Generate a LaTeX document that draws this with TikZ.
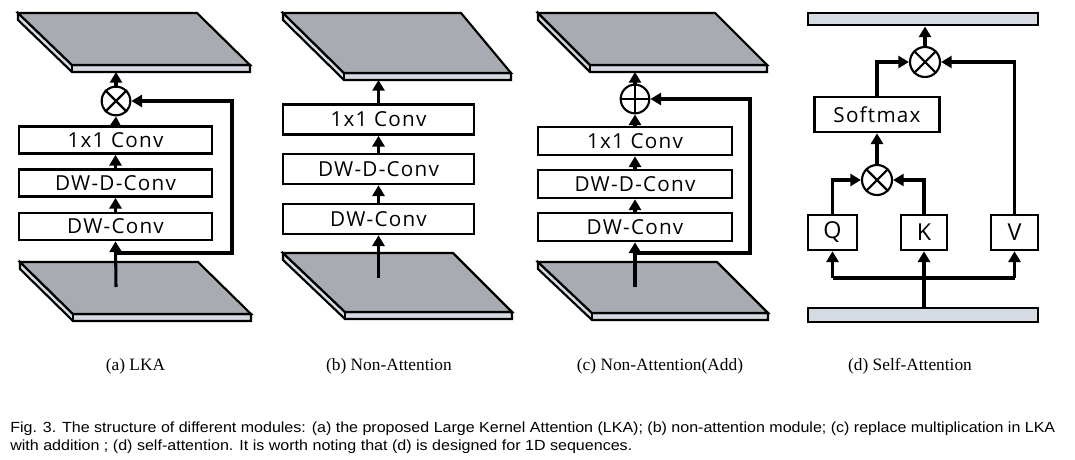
\documentclass[tikz,border=0pt]{standalone}
\usepackage{fontspec}
\usepackage{graphicx}
\setmainfont{Liberation Serif}
\newfontfamily\boxfont[LetterSpace=6]{Open Sans}
\newfontfamily\capfont{Liberation Sans}
\usetikzlibrary{arrows.meta}
\definecolor{planegray}{RGB}{168,172,178}
\definecolor{slablight}{RGB}{214,218,226}
\newcommand\myslab[8]{%
  \filldraw[slabside] (#1,#2) -- (#7,#8) -- (#5,#6) -- ++(0,7) -- ++(#7-#5,0) -- ++(#1-#7,#2-#8) -- cycle;
  \draw[slabside] (#7,#8) -- ++(0,7);
  \filldraw[slabtop] (#1,#2) -- (#3,#4) -- (#5,#6) -- (#7,#8) -- cycle;}
\begin{document}
\begin{tikzpicture}[x=0.75pt,y=-0.75pt,
  slabside/.style={fill=slablight,draw=black,line width=1.6pt,line join=miter},
  slabtop/.style={fill=planegray,draw=black,line width=1.6pt,line join=miter},
  box/.style={draw,line width=2pt,fill=white,inner sep=0pt,font=\boxfont\fontsize{15.5}{18}\selectfont},
  arr/.style={line width=2.3pt,-{Triangle[width=9pt,length=8pt]}},
  ln/.style={line width=2.3pt},
  op/.style={circle,draw,line width=1.6pt,inner sep=0pt,fill=white},
  bar/.style={draw,line width=2.2pt,fill=slablight,inner sep=0pt,minimum width=172.5pt},
  sub/.style={anchor=base,font=\fontsize{13}{15}\selectfont},
  figcap/.style={anchor=base west,inner sep=0pt,font=\capfont\fontsize{11}{13}\selectfont}]
\useasboundingbox (0,0) rectangle (1075,460);

% ---------- (a) LKA ----------
\myslab{18}{13}{197}{13}{250}{65}{72}{65}
\myslab{20}{262}{198}{262}{251}{314}{73}{314}
\node[box,minimum width=144.75pt,minimum height=20.25pt] (a1) at (115.5,226.5) {DW-Conv};
\node[box,minimum width=144.75pt,minimum height=20.25pt] (a2) at (115.5,183) {DW-D-Conv};
\node[box,minimum width=144.75pt,minimum height=20.25pt] (a3) at (115.5,140) {1x1 Conv};
\node[op,minimum size=21.5pt] (am) at (116,101) {};
\draw[line width=1.6pt] (am.north west) -- (am.south east) (am.north east) -- (am.south west);
\coordinate (aIn) at (116,287);
\coordinate (aOut) at (116,72);
\coordinate (aSplit) at (116,253);
\coordinate (aC1) at (232,253);
\coordinate (aC2) at (232,101);
\draw[arr] (aIn) -- (a1.south);
\draw[arr] (a1.north) -- (a2.south);
\draw[arr] (a2.north) -- (a3.south);
\draw[arr] (a3.north) -- (am.south);
\draw[arr] (am.north) -- (aOut);
\draw[arr,line join=miter] (aSplit) -- (aC1) -- (aC2) -- (am.east);

% ---------- (b) Non-Attention ----------
\myslab{283}{13}{461}{13}{511}{73}{344}{73}
\myslab{283}{253}{453}{253}{512}{312}{345}{312}
\node[box,minimum width=143.25pt,minimum height=22.5pt] (b1) at (378.5,219) {DW-Conv};
\node[box,minimum width=143.25pt,minimum height=22.5pt] (b2) at (378.5,169) {DW-D-Conv};
\node[box,minimum width=143.25pt,minimum height=22.5pt] (b3) at (378.5,119.5) {1x1 Conv};
\coordinate (bIn) at (378.5,278);
\coordinate (bOut) at (378.5,80);
\draw[arr] (bIn) -- (b1.south);
\draw[arr] (b1.north) -- (b2.south);
\draw[arr] (b2.north) -- (b3.south);
\draw[arr] (b3.north) -- (bOut);

% ---------- (c) Non-Attention(Add) ----------
\myslab{538}{13}{715}{13}{767}{65}{590}{65}
\myslab{538}{262}{717}{262}{768}{313}{592}{313}
\node[box,minimum width=145.5pt,minimum height=21pt] (c1) at (635,227) {DW-Conv};
\node[box,minimum width=145.5pt,minimum height=21pt] (c2) at (635,184) {DW-D-Conv};
\node[box,minimum width=145.5pt,minimum height=21pt] (c3) at (635,141) {1x1 Conv};
\node[op,minimum size=21.5pt] (cm) at (635,99) {};
\draw[line width=1.6pt] (cm.north) -- (cm.south) (cm.west) -- (cm.east);
\coordinate (cIn) at (635,287);
\coordinate (cOut) at (635,72);
\coordinate (cSplit) at (635,253);
\coordinate (cC1) at (750,253);
\coordinate (cC2) at (750,99);
\draw[arr] (cIn) -- (c1.south);
\draw[arr] (c1.north) -- (c2.south);
\draw[arr] (c2.north) -- (c3.south);
\draw[arr] (c3.north) -- (cm.south);
\draw[arr] (cm.north) -- (cOut);
\draw[arr,line join=miter] (cSplit) -- (cC1) -- (cC2) -- (cm.east);

% ---------- (d) Self-Attention ----------
\node[bar,minimum height=9pt] (dtop) at (923,19) {};
\node[bar,minimum height=10.5pt] (dbot) at (923,315) {};
\node[op,minimum size=22.5pt] (dm2) at (925,62) {};
\draw[line width=1.6pt] (dm2.north west) -- (dm2.south east) (dm2.north east) -- (dm2.south west);
\node[op,minimum size=22.5pt] (dm1) at (877,180) {};
\draw[line width=1.6pt] (dm1.north west) -- (dm1.south east) (dm1.north east) -- (dm1.south west);
\node[box,minimum width=93.75pt,minimum height=26.25pt] (dsm) at (877,114.5) {Softmax};
\node[box,minimum width=36.75pt,minimum height=26.25pt,font=\boxfont\fontsize{17.5}{20}\selectfont] (dq) at (832.5,232.5) {Q};
\node[box,minimum width=34.5pt,minimum height=26.25pt,font=\boxfont\fontsize{17.5}{20}\selectfont] (dk) at (924,232.5) {K};
\node[box,minimum width=35.25pt,minimum height=26.25pt,font=\boxfont\fontsize{17.5}{20}\selectfont] (dv) at (1014.5,232.5) {V};
\coordinate (dbl) at (832.5,278);
\coordinate (dbr) at (1014.5,278);
\draw[ln] (dbl) -- (dbr);
\draw[arr] (dbot.north -| dk.south) -- (dk.south);
\draw[arr] (dbl) -- (dq.south);
\draw[arr] (dbr) -- (dv.south);
\draw[arr,line join=miter] (dq.north) |- (dm1.west);
\draw[arr,line join=miter] (dk.north) |- (dm1.east);
\draw[arr] (dm1.north) -- (dsm.south);
\draw[arr,line join=miter] (dsm.north) |- (dm2.west);
\draw[arr,line join=miter] (dv.north) |- (dm2.east);
\draw[arr] (dm2.north) -- (dm2.north |- dtop.south);

% ---------- sub-captions ----------
\node[sub] (la) at (135.5,370) {(a) LKA};
\node[sub] (lb) at (389,370) {(b) Non-Attention};
\node[sub] (lc) at (660,370) {(c) Non-Attention(Add)};
\node[sub] (ld) at (910,370) {(d) Self-Attention};

% ---------- figure caption ----------
\node[figcap] (f1) at (10,432) {\resizebox{783.75pt}{\height}{Fig. 3. The structure of different modules: (a) the proposed Large Kernel Attention (LKA); (b) non-attention module; (c) replace multiplication in LKA}};
\node[figcap] (f2) at (10,450) {\resizebox{466.5pt}{\height}{with addition ; (d) self-attention. It is worth noting that (d) is designed for 1D sequences.}};
\end{tikzpicture}
\end{document}
